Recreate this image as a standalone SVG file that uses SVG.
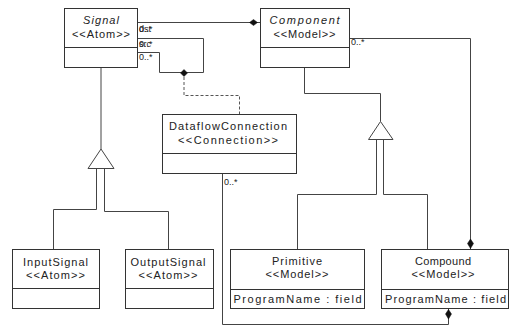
<svg xmlns="http://www.w3.org/2000/svg" width="509" height="327" viewBox="0 0 509 327">
  <style>
    .box { fill: #ffffff; stroke: #333333; stroke-width: 1; }
    .sep { stroke: #333333; stroke-width: 1; }
    .t { font-family: "Liberation Sans", Arial, sans-serif; font-size: 11px; fill: #222222; }
    .c { text-anchor: middle; }
    .i { font-style: italic; }
    .lbl { font-family: "Liberation Sans", Arial, sans-serif; font-size: 9px; fill: #222222; }
    .ln { fill: none; stroke: #444444; stroke-width: 1; }
    .dash { fill: none; stroke: #555555; stroke-width: 1; stroke-dasharray: 3 2; }
    .dia { fill: #111111; stroke: #111111; stroke-width: 0.5; }
    .tri { fill: #ffffff; stroke: #444444; stroke-width: 1; }
  </style>

  <!-- connectors -->
  <g id="connectors">
    <!-- Component owns Signal -->
    <path class="ln" d="M137.5,22.5 H260.5"/>
    <polygon class="dia" points="249.5,22.5 253.5,19.5 257.5,22.5 253.5,25.5"/>

    <!-- Signal self association (src / dst) -->
    <path class="ln" d="M137.5,38.5 H203.5 V72.5 H159.5 V52.5 H137.5"/>
    <polygon class="dia" points="180.5,73 184,69.5 187.5,73 184,76.5"/>
    <!-- association class link -->
    <path class="dash" d="M184,77 V95.5 H239.5 V114.5"/>

    <!-- Signal generalization -->
    <path class="ln" d="M101,67.5 V149"/>
    <polygon class="tri" points="101,149 88,168.5 114,168.5"/>
    <path class="ln" d="M96.5,168.5 V209.5 H53.5 V249.5"/>
    <path class="ln" d="M104.5,168.5 V211.5 H168.5 V249.5"/>

    <!-- Component generalization -->
    <path class="ln" d="M304.5,67.5 V93.5 H380.5 V121.5"/>
    <polygon class="tri" points="380.5,121.5 368.5,139.5 393,139.5"/>
    <path class="ln" d="M376.5,139.5 V194.5 H297.5 V249.5"/>
    <path class="ln" d="M383.5,139.5 V194.5 H427.5 V249.5"/>

    <!-- Compound owns Component -->
    <path class="ln" d="M349.5,38.5 H470.5 V249.5"/>
    <polygon class="dia" points="470.5,239 473.5,243.5 470.5,248.5 467.5,243.5"/>

    <!-- Compound owns DataflowConnection -->
    <path class="ln" d="M222.5,173.5 V324.5 H448.5 V308.5"/>
    <polygon class="dia" points="448.5,309.5 451.5,314 448.5,319 445.5,314"/>

    <!-- end labels -->
    <text class="lbl" x="139" y="31.5">0..*</text>
    <text class="lbl" x="139" y="31.5">dst</text>
    <text class="lbl" x="139" y="46.5">0..*</text>
    <text class="lbl" x="139" y="46.5">src</text>
    <text class="lbl" x="139" y="60">0..*</text>
    <text class="lbl" x="351" y="45">0..*</text>
    <text class="lbl" x="224" y="185">0..*</text>
  </g>

  <!-- Signal -->
  <g id="Signal">
    <rect class="box" x="64.5" y="8.5" width="73" height="59"/>
    <line class="sep" x1="64.5" y1="47.5" x2="137.5" y2="47.5"/>
    <text class="t c i" x="101" y="24" textLength="36" lengthAdjust="spacing">Signal</text>
    <text class="t c" x="101" y="38" textLength="58" lengthAdjust="spacing">&lt;&lt;Atom&gt;&gt;</text>
  </g>

  <!-- Component -->
  <g id="Component">
    <rect class="box" x="260.5" y="8.5" width="89" height="59"/>
    <line class="sep" x1="260.5" y1="47.5" x2="349.5" y2="47.5"/>
    <text class="t c i" x="304.5" y="24" textLength="70" lengthAdjust="spacing">Component</text>
    <text class="t c" x="304.5" y="38" textLength="62" lengthAdjust="spacing">&lt;&lt;Model&gt;&gt;</text>
  </g>

  <!-- DataflowConnection -->
  <g id="DataflowConnection">
    <rect class="box" x="162.5" y="114.5" width="134" height="59"/>
    <line class="sep" x1="162.5" y1="153.5" x2="296.5" y2="153.5"/>
    <text class="t c" x="228" y="130" textLength="118" lengthAdjust="spacing">DataflowConnection</text>
    <text class="t c" x="228" y="143.5" textLength="100" lengthAdjust="spacing">&lt;&lt;Connection&gt;&gt;</text>
  </g>

  <!-- InputSignal -->
  <g id="InputSignal">
    <rect class="box" x="12.5" y="249.5" width="87" height="59"/>
    <line class="sep" x1="12.5" y1="288.5" x2="99.5" y2="288.5"/>
    <text class="t c" x="55.5" y="266" textLength="65" lengthAdjust="spacing">InputSignal</text>
    <text class="t c" x="55.5" y="279" textLength="59" lengthAdjust="spacing">&lt;&lt;Atom&gt;&gt;</text>
  </g>

  <!-- OutputSignal -->
  <g id="OutputSignal">
    <rect class="box" x="125.5" y="249.5" width="88" height="59"/>
    <line class="sep" x1="125.5" y1="288.5" x2="213.5" y2="288.5"/>
    <text class="t c" x="168" y="266" textLength="75" lengthAdjust="spacing">OutputSignal</text>
    <text class="t c" x="168" y="279" textLength="59" lengthAdjust="spacing">&lt;&lt;Atom&gt;&gt;</text>
  </g>

  <!-- Primitive -->
  <g id="Primitive">
    <rect class="box" x="230.5" y="249.5" width="134" height="59"/>
    <line class="sep" x1="230.5" y1="289.5" x2="364.5" y2="289.5"/>
    <text class="t c" x="297" y="265" textLength="50" lengthAdjust="spacing">Primitive</text>
    <text class="t c" x="297" y="277.5" textLength="63" lengthAdjust="spacing">&lt;&lt;Model&gt;&gt;</text>
    <text class="t" x="233.5" y="302.5" textLength="128" lengthAdjust="spacing">ProgramName : field</text>
  </g>

  <!-- Compound -->
  <g id="Compound">
    <rect class="box" x="381.5" y="249.5" width="127" height="59"/>
    <line class="sep" x1="381.5" y1="289.5" x2="508.5" y2="289.5"/>
    <text class="t c" x="443" y="265" textLength="56" lengthAdjust="spacing">Compound</text>
    <text class="t c" x="443" y="277.5" textLength="63" lengthAdjust="spacing">&lt;&lt;Model&gt;&gt;</text>
    <text class="t" x="385" y="302.5" textLength="121" lengthAdjust="spacing">ProgramName : field</text>
  </g>
</svg>
